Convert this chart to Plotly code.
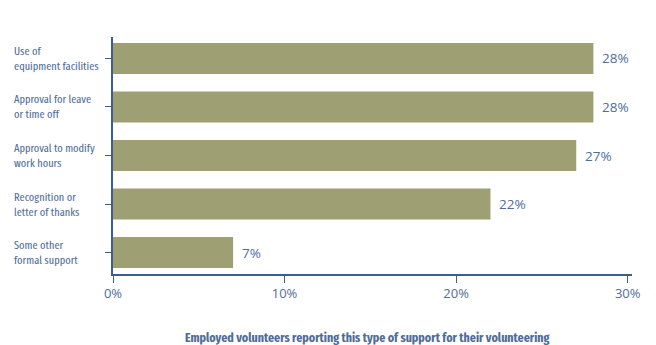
import plotly.graph_objects as go

# Share of employed volunteers by type of employer support (%)
categories = [
    "Use of<br>equipment facilities",
    "Approval for leave<br>or time off",
    "Approval to modify<br>work hours",
    "Recognition or<br>letter of thanks",
    "Some other<br>formal support",
]
values = [28, 28, 27, 22, 7]
x_ticks = [0, 10, 20, 30]
x_tick_labels = ["0%", "10%", "20%", "30%"]
x_title = "Employed volunteers reporting this type of support for their volunteering"

BAR = "#9ea074"
INK = "#4f6d99"
AXIS = "#3d5d8f"
COND = "Fira Sans Extra Condensed, Roboto Condensed, sans-serif"
NUM = "Open Sans, sans-serif"

W, H = 656, 345
L, R, T, B = 113, 24, 37, 71
PAD = 0.443  # category-axis padding above first / below last bar

fig = go.Figure(
    go.Bar(
        x=values,
        y=list(range(len(categories))),
        orientation="h",
        marker=dict(color=BAR, line=dict(width=0)),
        width=0.64,
        hoverinfo="skip",
    )
)

# value labels to the right of each bar
for i, v in enumerate(values):
    fig.add_annotation(
        x=v, y=i, xref="x", yref="y", xanchor="left", yanchor="middle",
        xshift=7, text=f"{v}%", showarrow=False,
        font=dict(family=NUM, size=13.5, color=INK),
    )

# left-aligned category labels
for i, c in enumerate(categories):
    fig.add_annotation(
        x=(12 - L) / (W - L - R), xref="paper", xanchor="left",
        y=i, yref="y", yanchor="middle",
        text=c, showarrow=False, align="left",
        font=dict(family=COND, size=11.3, color=INK),
    )

fig.add_annotation(
    x=0.49, xref="paper", xanchor="center",
    y=-(337 - (H - B)) / (H - T - B), yref="paper", yanchor="middle",
    text=f"<b>{x_title}</b>", showarrow=False,
    font=dict(family=COND, size=13, color=INK),
)

fig.update_layout(
    width=W, height=H,
    margin=dict(l=L, r=R, t=T, b=B),
    paper_bgcolor="white", plot_bgcolor="white",
    showlegend=False,
    xaxis=dict(
        range=[0, 30.25], tickvals=x_ticks, ticktext=x_tick_labels,
        showgrid=False, zeroline=False,
        showline=True, linecolor=AXIS, linewidth=1.5,
        ticks="outside", ticklen=7, tickcolor=AXIS, tickwidth=1,
        tickfont=dict(family=NUM, size=13, color=INK),
    ),
    yaxis=dict(
        range=[len(categories) - 1 + PAD, -PAD],
        tickvals=list(range(len(categories))), ticktext=[""] * len(categories),
        tickson="boundaries",
        showgrid=False, zeroline=False,
        showline=True, linecolor=AXIS, linewidth=1.5,
        ticks="outside", ticklen=6, tickcolor=AXIS, tickwidth=1,
    ),
)

fig.write_html("out.html")
